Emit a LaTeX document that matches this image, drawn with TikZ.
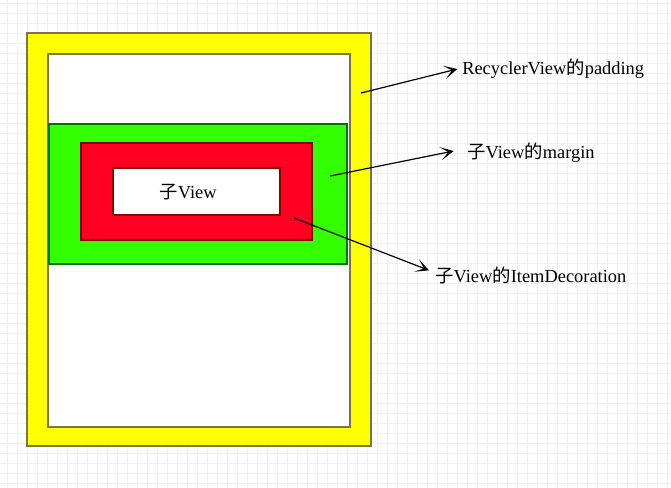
\documentclass[tikz,border=0pt]{standalone}
\usepackage{fontspec}
\setmainfont{Liberation Serif}
\newfontfamily\cjk{Noto Sans CJK SC}
\usetikzlibrary{arrows.meta}

\definecolor{padyellow}{HTML}{FFFF00}
\definecolor{margreen}{HTML}{33FF00}
\definecolor{decored}{HTML}{FF0022}
\definecolor{gridgray}{HTML}{F0F0F0}

\begin{document}
\begin{tikzpicture}[x=0.75pt, y=-0.75pt, >={Stealth[length=10pt, width=10pt, inset=6pt]},
  font=\fontsize{13.8}{16}\selectfont,
  layer/.style={line width=1pt},
  callout/.style={->, line width=0.9pt},
  label/.style={anchor=west, inner sep=0pt}]

\useasboundingbox (0,0) rectangle (671,487);

% background grid
\foreach \x in {7,17,...,667} \draw[gridgray, line width=0.4pt] (\x,0) -- (\x,487);
\foreach \y in {3,13,...,483} \draw[gridgray, line width=0.4pt] (0,\y) -- (671,\y);

% RecyclerView with its padding
\draw[layer, fill=padyellow, draw=black!60!yellow] (27,33) rectangle (371,446);
\draw[layer, fill=white, draw=black!60!yellow] (48,54) rectangle (350,427);

% child view: margin, decoration, content
\draw[layer, fill=margreen, draw=black!55!green] (49,124) rectangle (347,264);
\draw[layer, fill=decored, draw=black!50!red] (81,143) rectangle (312,240);
\draw[layer, fill=white, draw=black!45!red] (113,168) rectangle (280,215);
\node (child) at (188,192) {{\cjk 子}View};

% labels
\node[label] (padding) at (462,69) {RecyclerView{\cjk 的}padding};
\node[label] (margin) at (467,153) {{\cjk 子}View{\cjk 的}margin};
\node[label] (deco) at (435,275) {{\cjk 子}View{\cjk 的}ItemDecoration};

\coordinate (padfrom) at (361,93);
\coordinate (marfrom) at (330,176);
\coordinate (decofrom) at (294,218);

\draw[callout] (padfrom) -- ([xshift=-3.5pt]padding.west);
\draw[callout] (marfrom) -- ([xshift=-10pt, yshift=1.5pt]margin.west);
\draw[callout] (decofrom) -- ([xshift=-4.5pt, yshift=3.5pt]deco.west);

\end{tikzpicture}
\end{document}
